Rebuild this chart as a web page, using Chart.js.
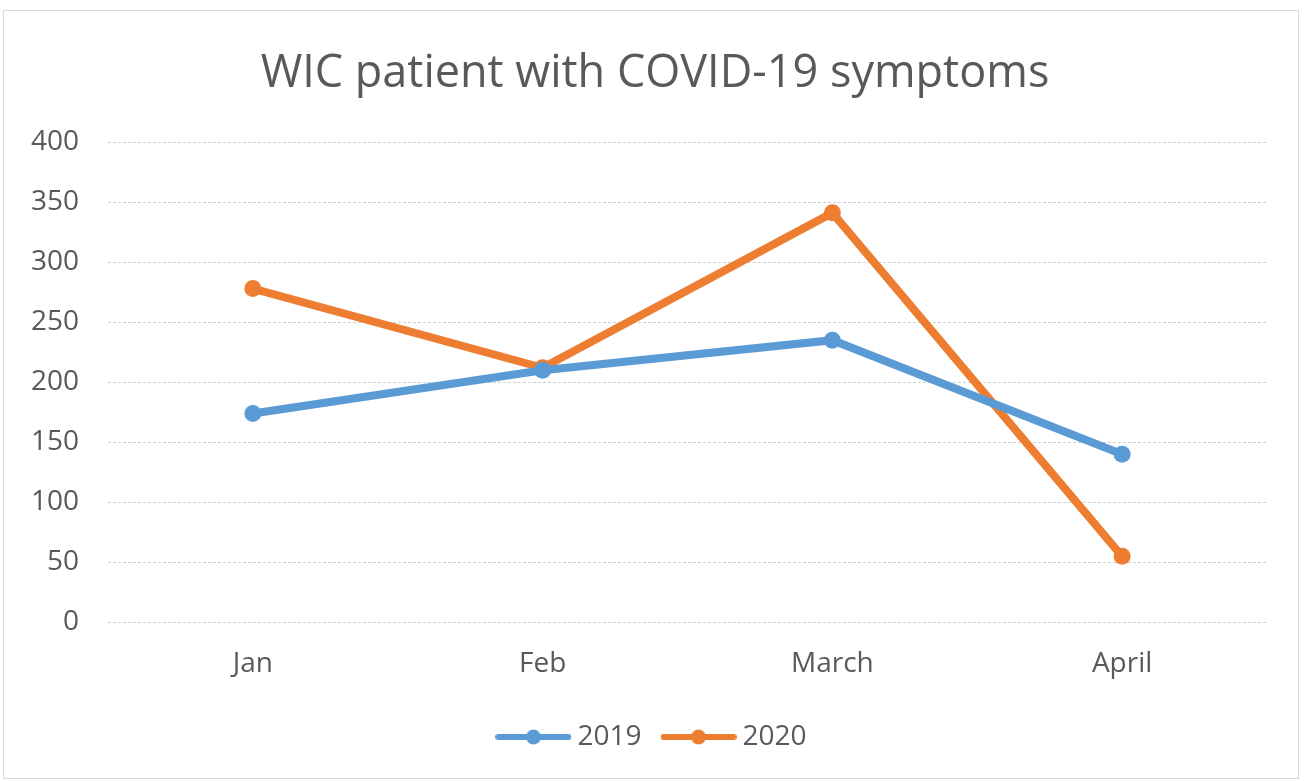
<!DOCTYPE html>
<html>
<head>
<meta charset="utf-8">
<script src="https://cdn.jsdelivr.net/npm/chart.js@4"></script>
<style>
  body { margin: 0; background: #fff; }
  #wrap { position: absolute; left: 3px; top: 10px; width: 1294px; height: 767px; border: 1px solid #d9d9d9; }
</style>
</head>
<body>
<div id="wrap"><canvas id="myChart"></canvas></div>
<script>
var months = ["Jan", "Feb", "March", "April"];
var values2019 = [174, 210, 235, 140];
var values2020 = [278, 212, 341, 55];
var yTicks = [0, 50, 100, 150, 200, 250, 300, 350, 400];

var blue = "#5B9BD5";
var orange = "#ED7D31";
var textColor = "#595959";
var fontName = "'Open Sans', sans-serif";

// legend marker: short line with a dot in the middle, like Excel
function legendIcon(color) {
  var c = document.createElement("canvas");
  c.width = 76; c.height = 18;
  var g = c.getContext("2d");
  g.strokeStyle = color;
  g.lineWidth = 6;
  g.lineCap = "round";
  g.beginPath(); g.moveTo(3, 9); g.lineTo(73, 9); g.stroke();
  g.fillStyle = color;
  g.beginPath(); g.arc(38, 9, 7.5, 0, Math.PI * 2); g.fill();
  return c;
}

var ctx = document.getElementById("myChart");

var myChart = new Chart(ctx, {
  type: "line",
  data: {
    labels: months,
    datasets: [{
      label: "2019",
      data: values2019,
      borderColor: blue,
      backgroundColor: blue,
      borderWidth: 8,
      pointRadius: 8.5,
      pointBackgroundColor: blue,
      pointBorderWidth: 0,
      fill: false,
      tension: 0
    }, {
      label: "2020",
      data: values2020,
      borderColor: orange,
      backgroundColor: orange,
      borderWidth: 8,
      pointRadius: 8.5,
      pointBackgroundColor: orange,
      pointBorderWidth: 0,
      fill: false,
      tension: 0
    }]
  },
  options: {
    responsive: true,
    maintainAspectRatio: false,
    animation: false,
    layout: { padding: { left: 8, right: 0, top: 0, bottom: 17 } },
    plugins: {
      title: {
        display: true,
        text: "WIC patient with COVID-19 symptoms",
        color: textColor,
        font: { family: fontName, size: 45, weight: "normal" },
        padding: { top: 36, bottom: 41 }
      },
      legend: {
        position: "bottom",
        labels: {
          color: textColor,
          font: { family: fontName, size: 28 },
          usePointStyle: true,
          pointStyleWidth: 60,
          boxHeight: 18,
          padding: 27,
          generateLabels: function (chart) {
            return chart.data.datasets.map(function (ds, i) {
              return {
                text: ds.label,
                fontColor: textColor,
                pointStyle: legendIcon(ds.borderColor),
                strokeStyle: ds.borderColor,
                fillStyle: ds.borderColor,
                lineWidth: 0,
                datasetIndex: i
              };
            });
          }
        }
      },
      tooltip: { enabled: false }
    },
    scales: {
      x: {
        offset: true,
        afterFit: function (scale) { scale.height -= 10; },
        grid: { display: false, drawTicks: false },
        border: { display: false },
        ticks: { color: textColor, font: { family: fontName, size: 28 }, padding: 25 }
      },
      y: {
        min: 0,
        max: 400,
        afterFit: function (scale) { scale.width = 96; },
        afterBuildTicks: function (scale) {
          scale.ticks = yTicks.map(function (v) { return { value: v }; });
        },
        grid: { color: "#cfcfcf", lineWidth: 1, drawTicks: false },
        border: { display: false, dash: [3, 2] },
        ticks: { color: textColor, font: { family: fontName, size: 28 }, padding: 29 }
      },
      // empty axis on the right, only keeps a margin after the plot
      yRight: {
        position: "right",
        min: 0,
        max: 400,
        afterFit: function (scale) { scale.width = 31; },
        grid: { display: false, drawTicks: false },
        border: { display: false },
        ticks: { display: false }
      }
    }
  }
});
</script>
</body>
</html>
